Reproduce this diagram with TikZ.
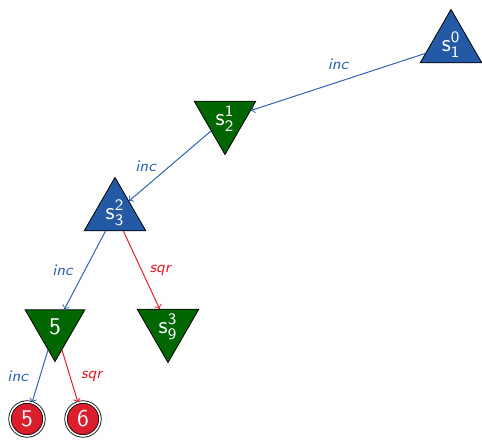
\documentclass[tikz,border=0pt]{standalone}
\usepackage{tikz}
\usetikzlibrary{shapes.geometric, positioning, arrows}
\renewcommand{\familydefault}{\sfdefault}
\definecolor{maxblue}{RGB}{36,89,165}
\definecolor{mingreen}{RGB}{0,102,0}
\definecolor{leafred}{RGB}{218,30,44}
\definecolor{incblue}{RGB}{47,100,184}
\definecolor{sqrred}{RGB}{226,32,44}
\newcommand{\sv}[2]{$\mathsf{s}^{\mathsf{#2}}_{\mathsf{#1}}$}
\tikzset{
    ->,  % every edge gets a head
    >=to, % thin open heads
    maxnode/.style={regular polygon, regular polygon sides=3, minimum size=34.5pt, inner sep=0pt, draw=black, fill=maxblue, text=white, font=\large}, % player to move up
    minnode/.style={maxnode, shape border rotate=180, fill=mingreen}, % player to move down
    leaf/.style={circle, minimum size=17pt, inner sep=0pt, fill=leafred, text=white, font=\large, draw=black, double=white, double distance=0.8pt}, % final values
    inc/.style={draw=incblue, text=incblue, line width=0.5pt, font=\footnotesize\itshape},
    sqr/.style={draw=sqrred, text=sqrred, line width=0.5pt, font=\footnotesize\itshape},
}

\begin{document}
\begin{tikzpicture}[x=0.5pt, y=0.5pt]
        \useasboundingbox (0,0) rectangle (482,440);
        \node[maxnode] (s1) at (451,395) {\sv{1}{0}};
        \node[minnode] (s2) at (225,321) {\sv{2}{1}};
        \node[maxnode] (s3) at (115,227) {\sv{3}{2}};
        \node[minnode] (a5) at (55,113) {5};
        \node[minnode] (s9) at (168,113) {\sv{9}{3}};
        \node[leaf] (l5) at (27,21) {5};
        \node[leaf] (l6) at (83,21) {6};

        \draw   (s1) edge[inc] node[above=2.5pt]{inc} (s2)
                (s2) edge[inc] node[left=3.5pt]{inc} (s3)
                (s3) edge[inc] node[left=2.5pt]{inc} (a5)
                (s3) edge[sqr] node[right=0.5pt]{sqr} (s9)
                (a5) edge[inc] node[left=2.5pt]{inc} (l5)
                (a5) edge[sqr] node[right=2pt]{sqr} (l6);
    \end{tikzpicture}
\end{document}
